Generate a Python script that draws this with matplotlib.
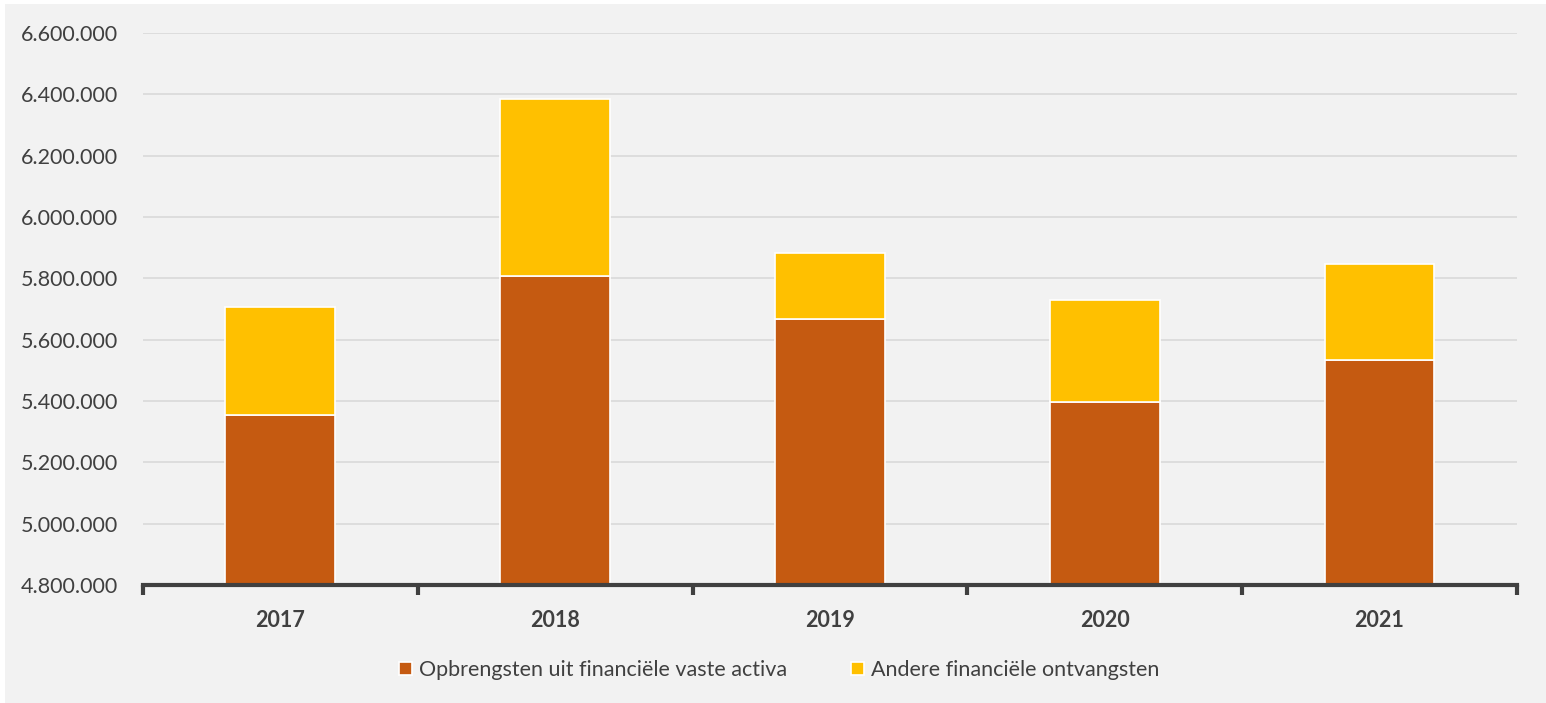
import matplotlib
matplotlib.use("Agg")
import matplotlib.pyplot as plt
from matplotlib.patches import Rectangle
from matplotlib.ticker import FuncFormatter

years = ["2017", "2018", "2019", "2020", "2021"]
vaste_activa = [5353000, 5806000, 5666000, 5396000, 5532000]
andere = [352000, 579000, 215000, 332000, 316000]
series_labels = ["Opbrengsten uit financiële vaste activa", "Andere financiële ontvangsten"]
y_ticks = [4800000, 5000000, 5200000, 5400000, 5600000, 5800000, 6000000, 6200000, 6400000, 6600000]

plt.rcParams['font.family'] = ['Lato', 'DejaVu Sans']
bg = "#F2F2F2"
txt = "#404040"

fig = plt.figure(figsize=(15.46, 7.03), dpi=100, facecolor="white")
# thin white margin on the top and left, like the source export
fig.patches.append(Rectangle((5 / 1546, 0), 1, 1 - 4 / 703, transform=fig.transFigure,
                             facecolor=bg, edgecolor="none", zorder=-10))
ax = fig.add_axes([0.0925, 0.168, 0.8887, 0.785])
ax.set_facecolor(bg)

x = range(len(years))
ax.bar(x, vaste_activa, width=0.4, color="#C55A11", edgecolor="white", linewidth=1.2,
       label=series_labels[0], zorder=3)
ax.bar(x, andere, width=0.4, bottom=vaste_activa, color="#FFC000", edgecolor="white",
       linewidth=1.2, label=series_labels[1], zorder=3)

ax.set_ylim(4800000, 6600000)
ax.set_xlim(-0.5, len(years) - 0.5)
ax.set_yticks(y_ticks)
ax.yaxis.set_major_formatter(FuncFormatter(lambda v, p: f"{int(v):,}".replace(",", ".")))
ax.tick_params(axis="y", length=0, labelsize=15.5, labelcolor=txt, pad=18)
ax.grid(axis="y", color="#D9D9D9", linewidth=1.2, zorder=0)

ax.set_xticks([i + 0.5 for i in range(-1, len(years))], minor=False)
ax.set_xticklabels([])
ax.tick_params(axis="x", which="major", length=7, width=3, color=txt, direction="out")
ax.set_xticks(list(x), minor=True)
ax.set_xticklabels(years, minor=True, fontsize=15.5, fontweight="bold", color=txt)
ax.tick_params(axis="x", which="minor", length=0, pad=18)

for s in ["top", "right", "left"]:
    ax.spines[s].set_visible(False)
ax.spines["bottom"].set_color(txt)
ax.spines["bottom"].set_linewidth(3)
ax.spines["bottom"].set_zorder(4)

fig.legend(loc="center", bbox_to_anchor=(0.504, 0.047), ncol=2, frameon=False,
           fontsize=15.5, labelcolor=txt, handlelength=0.6, handleheight=0.6,
           handletextpad=0.3, columnspacing=3.0)

fig.savefig("out.png", dpi=100, facecolor="white")
